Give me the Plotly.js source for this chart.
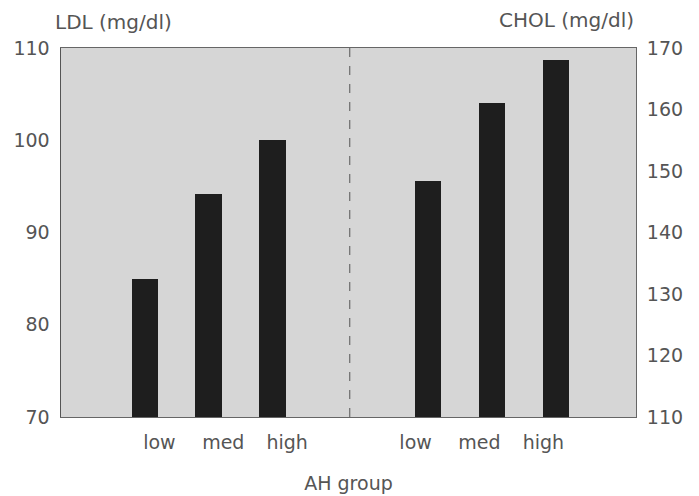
<!DOCTYPE html>
<html>
<head>
<meta charset="utf-8">
<script src="https://cdn.plot.ly/plotly-3.0.1.min.js"></script>
<style>html,body{margin:0;padding:0;background:#fff;}#chart{width:699px;height:496px;}</style>
</head>
<body>
<div id="chart"></div>
<script>
// Data
const categories = ["low", "med", "high"];
const ldlValues = [85.0, 94.2, 100.0];     // LDL (mg/dl), left axis
const cholValues = [148.4, 161.1, 168.1];  // CHOL (mg/dl), right axis
const ldlAxisTitle = "LDL (mg/dl)";
const cholAxisTitle = "CHOL (mg/dl)";
const xAxisTitle = "AH group";

// layout helpers (positions, not data)
const leftPos = categories.map((c, i) => 1 + i);
const rightPos = categories.map((c, i) => 5.44 + i);
const leftLabelPos = leftPos.map(p => p + 0.23);
const rightLabelPos = rightPos.map(p => p - 0.2);
const textColor = "#555555";
const fontFamily = "DejaVu Sans, Verdana, sans-serif";

const traces = [
  {type: "bar", x: leftPos, y: ldlValues, width: 0.41, marker: {color: "#1e1e1e"}, yaxis: "y", hoverinfo: "y"},
  {type: "bar", x: rightPos, y: cholValues, width: 0.41, marker: {color: "#1e1e1e"}, yaxis: "y2", hoverinfo: "y"}
];

const layout = {
  width: 699, height: 496,
  margin: {l: 61, r: 63, t: 48, b: 79},
  paper_bgcolor: "#ffffff",
  plot_bgcolor: "#d6d6d6",
  showlegend: false,
  font: {family: fontFamily, color: textColor, size: 19},
  xaxis: {
    range: [-0.31, 8.69], showgrid: false, zeroline: false,
    tickvals: leftLabelPos.concat(rightLabelPos),
    ticktext: categories.concat(categories),
    ticks: "", ticklabelstandoff: 8, tickfont: {size: 19, color: textColor},
    showline: true, linecolor: "#666", linewidth: 1, mirror: true,
    title: {text: xAxisTitle, font: {size: 19, color: textColor}, standoff: 24}
  },
  yaxis: {
    range: [70, 110], tickvals: [70, 80, 90, 100, 110],
    showgrid: false, zeroline: false, ticks: "", ticklabelstandoff: 6,
    tickfont: {size: 19, color: textColor},
    showline: true, linecolor: "#555", linewidth: 1.5
  },
  yaxis2: {
    range: [110, 170], tickvals: [110, 120, 130, 140, 150, 160, 170],
    overlaying: "y", side: "right", showgrid: false, zeroline: false, ticks: "",
    ticklabelstandoff: 6,
    tickfont: {size: 19, color: textColor},
    showline: true, linecolor: "#666", linewidth: 1
  },
  shapes: [
    {type: "line", xref: "x", yref: "paper", x0: 4.21, x1: 4.21, y0: 0, y1: 1,
     line: {color: "#555", width: 1, dash: "dash"}}
  ],
  annotations: [
    {text: ldlAxisTitle, xref: "paper", yref: "paper", x: -0.014, y: 1.0, yshift: 26,
     xanchor: "left", yanchor: "middle", showarrow: false, font: {size: 20, color: textColor}},
    {text: cholAxisTitle, xref: "paper", yref: "paper", x: 1.0, y: 1.0, yshift: 28,
     xanchor: "right", yanchor: "middle", showarrow: false, font: {size: 20, color: textColor}}
  ],
  bargap: 0
};

Plotly.newPlot("chart", traces, layout, {displayModeBar: false, staticPlot: true});
</script>
</body>
</html>
